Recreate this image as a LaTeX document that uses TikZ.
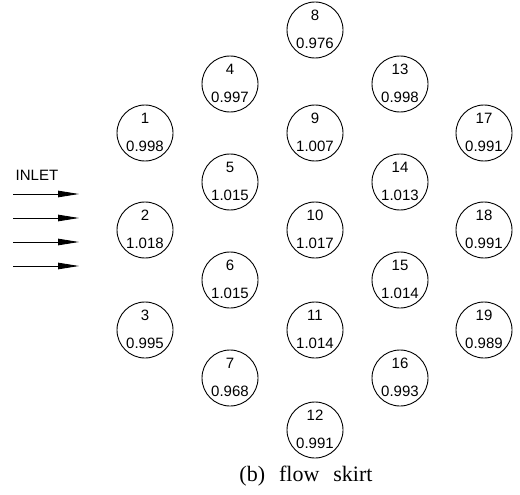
\documentclass[tikz,border=0pt]{standalone}
\usepackage{fontspec}
\setsansfont{Liberation Sans}
\newfontfamily\capfont{Liberation Serif}
\usetikzlibrary{arrows.meta}
\begin{document}
\begin{tikzpicture}[x=1pt,y=-1pt,
  rod/.style={circle, draw, line width=0.9pt, minimum size=56pt, inner sep=0pt},
  tag/.style={font=\sffamily\fontsize{15}{15}\selectfont, inner sep=0pt},
  flowarrow/.style={line width=0.9pt, -{Triangle[length=21pt,width=6.5pt]}}]
\useasboundingbox (0,0) rectangle (520,495);

% rod bundle: number above, relative value below
\foreach \n/\x/\y/\v in {
  1/145/133/0.998, 2/145/230/1.018, 3/145/330/0.995,
  4/230/84/0.997, 5/230/182/1.015, 6/230/280/1.015, 7/230/378/0.968,
  8/315/30/0.976, 9/315/133/1.007, 10/315/230/1.017, 11/315/330/1.014, 12/315/430/0.991,
  13/400/84/0.998, 14/400/182/1.013, 15/400/280/1.014, 16/400/378/0.993,
  17/484/133/0.991, 18/484/230/0.991, 19/484/330/0.989}{
  \node[rod] (r\n) at (\x,\y) {};
  \node[tag] (n\n) at (\x,\y-15) {\n};
  \node[tag] (v\n) at (\x,\y+13) {\v};
}

% inlet flow
\node[tag] (inlet) at (37,175) {INLET};
\foreach \i/\y in {1/194, 2/218, 3/242, 4/266}{
  \coordinate (s\i) at (13,\y);
  \coordinate (e\i) at (79,\y);
  \draw[flowarrow] (s\i) -- (e\i);
}

% caption
\node[anchor=base, inner sep=0pt, font=\capfont\fontsize{22}{24}\selectfont] (cap) at (306,481)
  {(b)\hspace{14pt}flow\hspace{14pt}skirt};
\end{tikzpicture}
\end{document}
